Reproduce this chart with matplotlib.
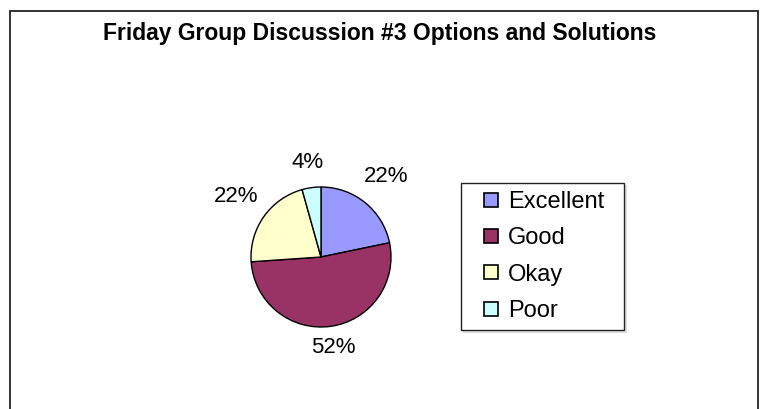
import numpy as np
import matplotlib
matplotlib.use('Agg')
import matplotlib.pyplot as plt
from matplotlib.patches import Rectangle
from matplotlib.lines import Line2D

plt.rcParams['font.family'] = ['Liberation Sans', 'DejaVu Sans']

# data
categories = ['Excellent', 'Good', 'Okay', 'Poor']
counts = [5, 12, 5, 1]
colors = ['#9999FF', '#993366', '#FFFFCC', '#CCFFFF']
title = 'Friday Group Discussion #3 Options and Solutions'

W, H = 761, 409
fig = plt.figure(figsize=(W / 100, H / 100), dpi=100)
fig.patch.set_facecolor('white')

# outer chart border (bottom edge runs off the picture)
fig.patches.append(Rectangle((10 / W, -0.1), 748 / W, 1.1 - 11 / H,
                             transform=fig.transFigure, fill=False,
                             edgecolor='#222222', linewidth=1.3))

fig.text(380 / W, 1 - 40 / H, title, ha='center', va='baseline',
         fontsize=16.5, fontweight='bold')

# pie, centre (321, 257) radius 70 px
cx, cy, r = 321, 257, 70
ax = fig.add_axes([(cx - r) / W, 1 - (cy + r) / H, 2 * r / W, 2 * r / H])
wedges, texts, autotexts = ax.pie(counts, colors=colors, startangle=90,
                                  counterclock=False, autopct='%1.0f%%',
                                  pctdistance=1.4,
                                  wedgeprops=dict(edgecolor='black', linewidth=1.0),
                                  textprops=dict(fontsize=16))
ax.set_xlim(-1, 1)
ax.set_ylim(-1, 1)
ax.set_aspect('auto')
ax.axis('off')

# excel style label distances
dists = [1.48, 1.3, 1.49, 1.36]
for w, t, d in zip(wedges, autotexts, dists):
    ang = np.deg2rad((w.theta1 + w.theta2) / 2)
    t.set_position((d * np.cos(ang), d * np.sin(ang)))

handles = [Line2D([], [], marker='s', linestyle='none', markersize=10,
                  markerfacecolor=c, markeredgecolor='black', markeredgewidth=1.2)
           for c in colors]
leg = fig.legend(handles, categories, loc='upper left',
                 bbox_to_anchor=(461 / W, 1 - 183 / H, 163 / W, 0), mode='expand',
                 fontsize=17, frameon=True, fancybox=False, borderpad=0.33,
                 handlelength=1.92, handletextpad=-0.26, labelspacing=0.61,
                 borderaxespad=0, shadow={'ox': 1.5, 'oy': -1.5, 'color': '0.8'})
leg.get_frame().set_edgecolor('#222222')
leg.get_frame().set_linewidth(1.0)

fig.savefig('out.png', dpi=100)
